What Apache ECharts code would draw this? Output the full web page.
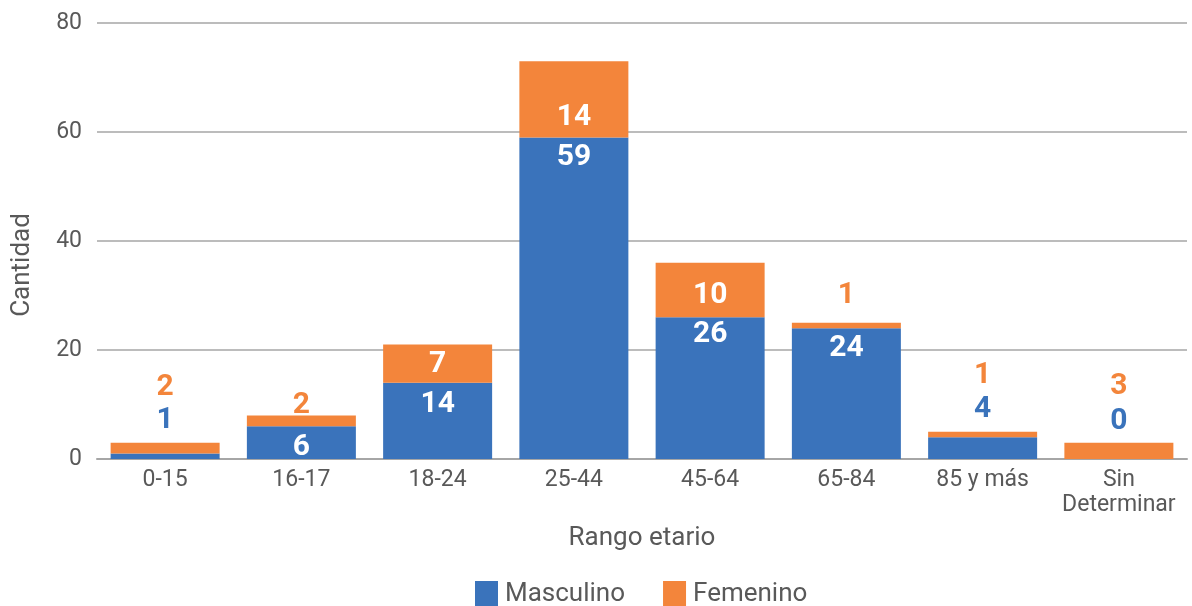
<!DOCTYPE html>
<html>
<head>
<meta charset="utf-8">
<script src="https://cdn.jsdelivr.net/npm/echarts@6/dist/echarts.min.js"></script>
<style>html,body{margin:0;padding:0;background:#fff;}#c{width:1192px;height:606px;}</style>
</head>
<body>
<div id="c"></div>
<script>
const categories = ['0-15', '16-17', '18-24', '25-44', '45-64', '65-84', '85 y más', 'Sin\nDeterminar'];
const masculino = [1, 6, 14, 59, 26, 24, 4, 0];
const femenino = [2, 2, 7, 14, 10, 1, 1, 3];
const yTicks = [0, 20, 40, 60, 80];

// label styling: vertical offset (px) of label centre from top of its segment
const mascLabelDy = [-33, 21, 22, 20, 17, 20, -28, -38];
const femLabelDy = [-55, -10, 20, 56, 33, -27, -56, -56];

const BLUE = '#3a73bb', ORANGE = '#f3853b', TXT = '#595959';
const FONT = 'Roboto';

function mkData(vals, dys, color) {
  return vals.map((v, i) => {
    const inside = dys[i] > 0;
    return {
      value: v,
      label: {
        show: true,
        position: ['50%', dys[i]],
        align: 'center',
        verticalAlign: 'middle',
        color: inside ? '#fff' : color,
        fontSize: 30,
        fontWeight: 'bold',
        fontFamily: FONT
      }
    };
  });
}

const chart = echarts.init(document.getElementById('c'));
chart.setOption({
  animation: false,
  textStyle: { fontFamily: FONT },
  grid: { left: 97, right: 5, top: 23, bottom: 147, containLabel: false },
  legend: {
    top: 576,
    left: 470,
    icon: 'rect',
    itemWidth: 23,
    itemHeight: 27,
    itemGap: 38,
    textStyle: { fontSize: 26, color: TXT, fontFamily: FONT, padding: [0, 0, 0, 2] },
    data: ['Masculino', 'Femenino']
  },
  xAxis: {
    type: 'category',
    data: categories,
    name: 'Rango etario',
    nameLocation: 'middle',
    nameGap: 66,
    nameTextStyle: { fontSize: 26, color: TXT, fontFamily: FONT },
    axisLine: { lineStyle: { color: '#a6a6a6', width: 2 } },
    axisTick: { show: false },
    axisLabel: { fontSize: 23, color: TXT, fontFamily: FONT, margin: 9, lineHeight: 25, interval: 0 }
  },
  yAxis: {
    type: 'value',
    min: yTicks[0],
    max: yTicks[yTicks.length - 1],
    interval: 20,
    axisLine: { show: false },
    axisTick: { show: false },
    splitLine: { lineStyle: { color: '#a6a6a6', width: 1.5 } },
    axisLabel: { fontSize: 23, color: TXT, fontFamily: FONT, margin: 15 }
  },
  graphic: [{
    type: 'text',
    x: 22, y: 265,
    rotation: Math.PI / 2,
    style: { text: 'Cantidad', fontSize: 26, fill: TXT, fontFamily: FONT, align: 'center', verticalAlign: 'middle' }
  }],
  series: [
    { name: 'Masculino', type: 'bar', stack: 't', barCategoryGap: '20%', itemStyle: { color: BLUE }, data: mkData(masculino, mascLabelDy, BLUE) },
    { name: 'Femenino', type: 'bar', stack: 't', barCategoryGap: '20%', itemStyle: { color: ORANGE }, data: mkData(femenino, femLabelDy, ORANGE) }
  ]
});
</script>
</body>
</html>
